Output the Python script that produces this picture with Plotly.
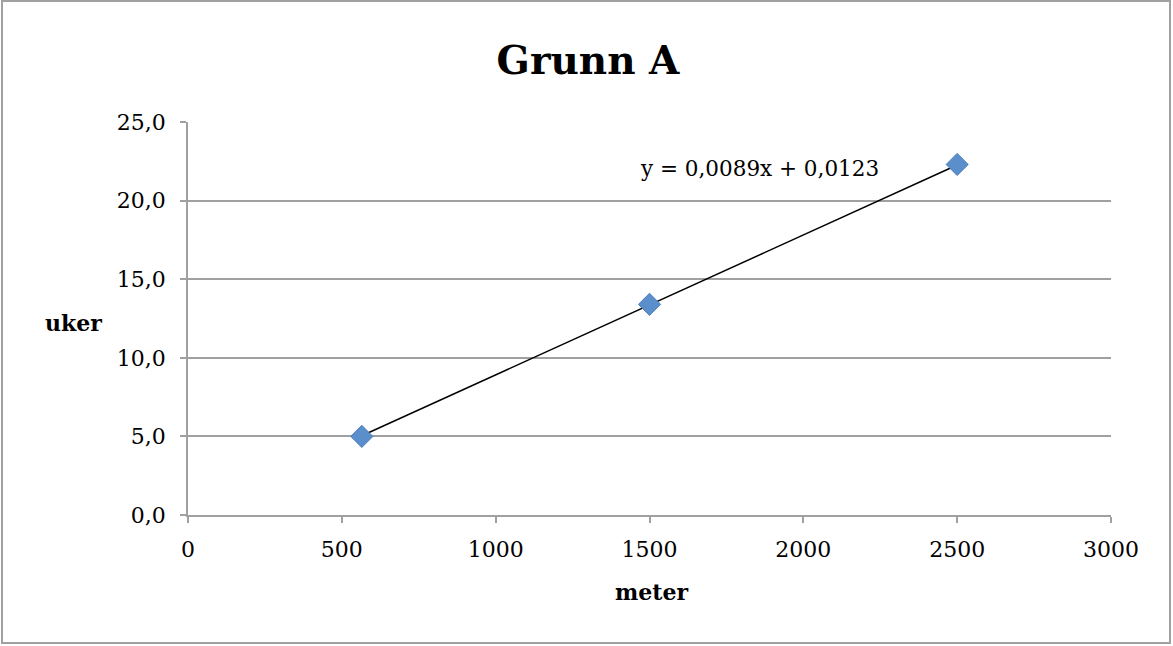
import plotly.graph_objects as go

meter = [565, 1500, 2500]
uker = [5.0, 13.4, 22.3]
slope = 0.0089
intercept = 0.0123
x_ticks = [0, 500, 1000, 1500, 2000, 2500, 3000]
y_ticks = [0, 5, 10, 15, 20, 25]
y_tick_labels = ["0,0", "5,0", "10,0", "15,0", "20,0", "25,0"]
title = "Grunn A"
equation = "y = 0,0089x + 0,0123"

FONT = "DejaVu Serif"
GRID = "#A0A0A0"

trend_x = [min(meter), max(meter)]
trend_y = [slope * v + intercept for v in trend_x]

fig = go.Figure()
fig.add_trace(go.Scatter(x=trend_x, y=trend_y, mode="lines",
                         line=dict(color="black", width=1.5), showlegend=False,
                         hoverinfo="skip"))
fig.add_trace(go.Scatter(x=meter, y=uker, mode="markers",
                         marker=dict(symbol="diamond", size=17, color="#5A8FCB",
                                     line=dict(color="#4A7EBB", width=1)),
                         showlegend=False))

W, H = 1173, 646
L, R, T, B = 188, 62, 122, 131
pw, ph = W - L - R, H - T - B

def px(x):
    return (x - L) / pw

def py(y):
    return (H - B - y) / ph

fig.add_shape(type="rect", xref="paper", yref="paper",
              x0=px(2), x1=px(1170), y0=py(643), y1=py(1),
              line=dict(color="#A0A0A0", width=2), fillcolor="rgba(0,0,0,0)", layer="below")

fig.add_annotation(x=1859, y=22.07, xref="x", yref="y", text=equation, showarrow=False,
                   font=dict(family=FONT, size=21.5, color="black"), xanchor="center", yanchor="middle")
fig.add_annotation(x=px(73), y=py(323), xref="paper", yref="paper", text="<b>uker</b>",
                   showarrow=False, font=dict(family=FONT, size=22, color="black"),
                   xanchor="center", yanchor="middle")
fig.add_annotation(x=px(651), y=py(592), xref="paper", yref="paper", text="<b>meter</b>",
                   showarrow=False, font=dict(family=FONT, size=22, color="black"),
                   xanchor="center", yanchor="middle")

fig.update_layout(
    width=W, height=H,
    margin=dict(l=L, r=R, t=T, b=B),
    paper_bgcolor="white", plot_bgcolor="white",
    title=dict(text="<b>" + title + "</b>", x=588 / W, xanchor="center",
               y=1 - 60 / H, yanchor="middle",
               font=dict(family=FONT, size=39, color="black")),
    xaxis=dict(range=[0, 3000], tickvals=x_ticks, ticktext=[str(v) for v in x_ticks],
               showgrid=False, zeroline=False, showline=True, linecolor=GRID, linewidth=1.5,
               ticks="outside", ticklen=6, tickcolor=GRID, tickwidth=1.5,
               ticklabelstandoff=8,
               tickfont=dict(family=FONT, size=22, color="black")),
    yaxis=dict(range=[0, 25], tickvals=y_ticks, ticktext=y_tick_labels,
               showgrid=True, gridcolor=GRID, gridwidth=1.5, zeroline=False,
               showline=True, linecolor=GRID, linewidth=1.5,
               ticks="outside", ticklen=6, tickcolor=GRID, tickwidth=1.5,
               ticklabelstandoff=10,
               tickfont=dict(family=FONT, size=22, color="black")),
)

fig.write_html("out.html")
